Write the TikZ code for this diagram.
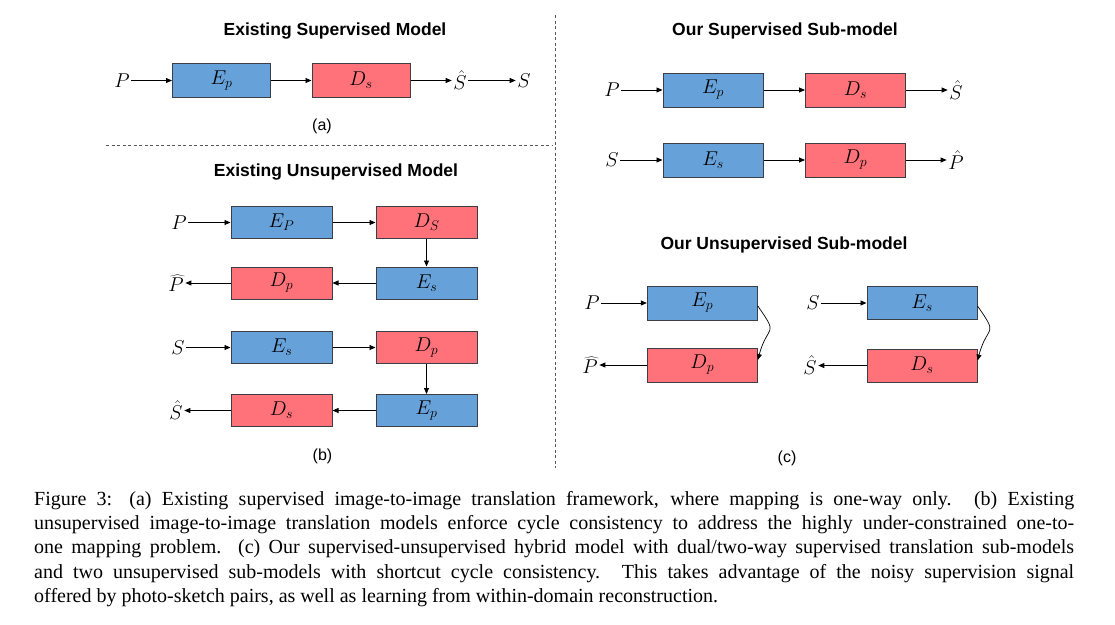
\RequirePackage{fix-cm}
\documentclass[tikz,border=0pt]{standalone}
\usepackage{fontspec}
\setmainfont{Liberation Serif}
\newfontfamily\headfont{Liberation Sans}
\usetikzlibrary{arrows.meta}
\definecolor{boxblue}{HTML}{67A1D9}
\definecolor{boxred}{HTML}{FF727A}
\definecolor{boxline}{HTML}{3B3F45}
\tikzset{
  blk/.style={draw=boxline, line width=1pt, minimum height=33pt, minimum width=100pt, inner sep=0pt, font=\fontsize{20}{24}\selectfont},
  enc/.style={blk, fill=boxblue},
  dec/.style={blk, fill=boxred},
  lbl/.style={inner sep=1.5pt, font=\fontsize{20}{24}\selectfont},
  head/.style={font=\headfont\bfseries\fontsize{17.5}{21}\selectfont, inner sep=0pt},
  sublbl/.style={font=\headfont\fontsize{16}{19}\selectfont, inner sep=0pt},
  arr/.style={-{Triangle[length=6pt,width=5pt]}, line width=0.8pt},
  sepline/.style={draw=black!65, line width=0.8pt, dash pattern=on 3pt off 2.5pt},
}
\begin{document}
\begin{tikzpicture}[x=1pt,y=-1pt]
\useasboundingbox (0,0) rectangle (1115,624);
% separators
\coordinate (h1) at (106,145);
\coordinate (h2) at (553,145);
\coordinate (v1) at (555,15);
\coordinate (v2) at (555,468);
\draw[sepline] (h1) -- (h2);
\draw[sepline] (v1) -- (v2);

% (a)
\node[head] (ha) at (335,31) {Existing Supervised Model};
\node[lbl] (aP) at (122,80.5) {$P$};
\node[enc, minimum width=98pt, minimum height=34pt] (aE) at (221.5,80.5) {$E_p$};
\node[dec, minimum width=98pt, minimum height=34pt] (aD) at (361,80.5) {$D_s$};
\node[lbl] (aSh) at (460,80.5) {$\hat{S}$};
\node[lbl] (aS) at (524,80.5) {$S$};
\draw[arr] (aP) -- (aE);
\draw[arr] (aE) -- (aD);
\draw[arr] (aD) -- (aSh);
\draw[arr] (aSh) -- (aS);
\node[sublbl] (la) at (322,126) {(a)};

% (b)
\node[head] (hb) at (336,172) {Existing Unsupervised Model};
\node[lbl] (bP) at (179,222.5) {$P$};
\node[enc, minimum width=101pt, minimum height=32pt] (bE1) at (281.5,222.5) {$E_P$};
\node[dec, minimum width=101pt, minimum height=32pt] (bD1) at (426.5,222.5) {$D_S$};
\node[enc, minimum width=101pt, minimum height=32pt] (bE2) at (426.5,283) {$E_s$};
\node[dec, minimum width=101pt, minimum height=32pt] (bD2) at (281.5,283) {$D_p$};
\node[lbl] (bPh) at (176,283) {$\widehat{P}$};
\draw[arr] (bP) -- (bE1);
\draw[arr] (bE1) -- (bD1);
\draw[arr] (bD1) -- (bE2);
\draw[arr] (bE2) -- (bD2);
\draw[arr] (bD2) -- (bPh);

\node[lbl] (bS) at (178,347.5) {$S$};
\node[enc, minimum width=101pt, minimum height=32pt] (bE3) at (281.5,347.5) {$E_s$};
\node[dec, minimum width=101pt, minimum height=32pt] (bD3) at (426.5,347.5) {$D_p$};
\node[enc, minimum width=101pt, minimum height=32pt] (bE4) at (426.5,410.5) {$E_p$};
\node[dec, minimum width=101pt, minimum height=32pt] (bD4) at (281.5,410.5) {$D_s$};
\node[lbl] (bSh) at (176,410.5) {$\hat{S}$};
\draw[arr] (bS) -- (bE3);
\draw[arr] (bE3) -- (bD3);
\draw[arr] (bD3) -- (bE4);
\draw[arr] (bE4) -- (bD4);
\draw[arr] (bD4) -- (bSh);
\node[sublbl] (lb) at (322.5,456) {(b)};

% (c) supervised
\node[head] (hc1) at (785,31) {Our Supervised Sub-model};
\node[lbl] (cP) at (612,90) {$P$};
\node[enc, minimum height=34pt] (cE1) at (713,90) {$E_p$};
\node[dec, minimum height=34pt] (cD1) at (855.5,90) {$D_s$};
\node[lbl] (cSh) at (956,90) {$\hat{S}$};
\draw[arr] (cP) -- (cE1);
\draw[arr] (cE1) -- (cD1);
\draw[arr] (cD1) -- (cSh);

\node[lbl] (cS) at (612,160) {$S$};
\node[enc, minimum height=34pt] (cE2) at (713,160) {$E_s$};
\node[dec, minimum height=34pt] (cD2) at (855.5,160) {$D_p$};
\node[lbl] (cPh) at (956,160) {$\hat{P}$};
\draw[arr] (cS) -- (cE2);
\draw[arr] (cE2) -- (cD2);
\draw[arr] (cD2) -- (cPh);

% (c) unsupervised
\node[head] (hc2) at (784,245) {Our Unsupervised Sub-model};
\node[lbl] (uP) at (592,303) {$P$};
\node[enc, minimum width=110pt, minimum height=34pt] (uE1) at (702.3,303) {$E_p$};
\node[dec, minimum width=110pt, minimum height=34pt] (uD1) at (702.3,365) {$D_p$};
\node[lbl] (uPh) at (590,365) {$\widehat{P}$};
\draw[arr] (uP) -- (uE1);
\draw[arr, line width=0.7pt] ([yshift=-3pt]uE1.east) to[out=-55,in=75,looseness=1.8] ([yshift=5pt]uD1.east);
\draw[arr] (uD1) -- (uPh);

\node[lbl] (uS) at (813,303) {$S$};
\node[enc, minimum width=110pt, minimum height=33pt] (uE2) at (922,303) {$E_s$};
\node[dec, minimum width=110pt, minimum height=33pt] (uD2) at (922,365.5) {$D_s$};
\node[lbl] (uSh) at (810,365.5) {$\hat{S}$};
\draw[arr] (uS) -- (uE2);
\draw[arr, line width=0.7pt] ([yshift=-3pt]uE2.east) to[out=-55,in=75,looseness=1.8] ([yshift=5pt]uD2.east);
\draw[arr] (uD2) -- (uSh);
\node[sublbl] (lc) at (787,458) {(c)};

% caption
\node[anchor=north west, inner sep=0pt, text width=1040pt, align=justify,
      font=\fontsize{20}{24.3}\selectfont] (cap) at (34,491)
{\emergencystretch=2em\hfuzz=20pt
Figure 3: (a) Existing supervised image-to-image translation framework, where mapping is one-way only. (b) Existing\linebreak
unsupervised image-to-image translation models enforce cycle consistency to address the highly under-constrained one-to-\linebreak
one mapping problem. (c) Our supervised-unsupervised hybrid model with dual/two-way supervised translation sub-models\linebreak
and two unsupervised sub-models with shortcut cycle consistency. This takes advantage of the noisy supervision signal\linebreak
offered by photo-sketch pairs, as well as learning from within-domain reconstruction.};
\end{tikzpicture}
\end{document}
